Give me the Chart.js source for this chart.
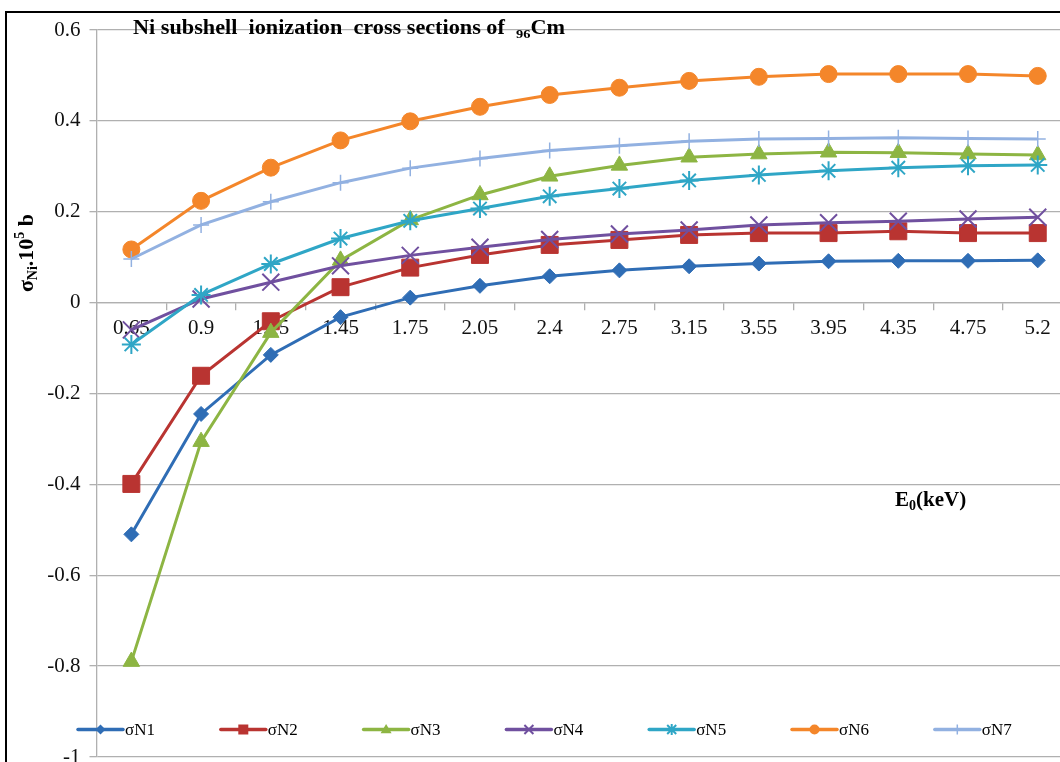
<!DOCTYPE html>
<html>
<head>
<meta charset="utf-8">
<script src="https://cdn.jsdelivr.net/npm/chart.js@4.4.1/dist/chart.umd.min.js"></script>
<style>
  html, body { margin: 0; padding: 0; background: #fff; overflow: hidden; width: 1060px; height: 762px; }
  #wrap { position: absolute; left: 0; top: 0; width: 1060px; height: 762px; overflow: hidden; }
  #frame { position: absolute; left: 5px; top: 11px; width: 1200px; height: 900px;
           border-left: 2.5px solid #000; border-top: 2.5px solid #000; }
  #box { position: absolute; left: 0; top: 0; width: 1100px; height: 780px; }
</style>
</head>
<body>
<div id="wrap">
  <div id="frame"></div>
  <div id="box"><canvas id="c" width="1100" height="780"></canvas></div>
</div>
<script>
// Incident energies E0 (keV)
const categories = ['0.65', '0.9', '1.15', '1.45', '1.75', '2.05', '2.4', '2.75', '3.15', '3.55', '3.95', '4.35', '4.75', '5.2'];

// N-subshell ionization cross sections (x 10^5 b)
const sN1 = [-0.510, -0.245, -0.115, -0.032, 0.011, 0.037, 0.058, 0.071, 0.080, 0.086, 0.091, 0.092, 0.092, 0.093];
const sN2 = [-0.399, -0.161, -0.041, 0.034, 0.077, 0.105, 0.127, 0.138, 0.149, 0.153, 0.153, 0.157, 0.153, 0.153];
const sN3 = [-0.790, -0.306, -0.066, 0.093, 0.182, 0.237, 0.278, 0.302, 0.320, 0.327, 0.331, 0.330, 0.327, 0.325];
const sN4 = [-0.060, 0.008, 0.045, 0.081, 0.104, 0.122, 0.139, 0.151, 0.160, 0.171, 0.176, 0.179, 0.184, 0.188];
const sN5 = [-0.092, 0.017, 0.085, 0.141, 0.180, 0.207, 0.234, 0.251, 0.269, 0.281, 0.290, 0.297, 0.301, 0.303];
const sN6 = [0.117, 0.224, 0.297, 0.357, 0.399, 0.431, 0.457, 0.473, 0.488, 0.497, 0.503, 0.503, 0.503, 0.499];
const sN7 = [0.096, 0.171, 0.222, 0.264, 0.296, 0.317, 0.335, 0.345, 0.355, 0.360, 0.361, 0.363, 0.361, 0.360];

const seriesNames = ['σN1', 'σN2', 'σN3', 'σN4', 'σN5', 'σN6', 'σN7'];
const yTicks = [-1, -0.8, -0.6, -0.4, -0.2, 0, 0.2, 0.4, 0.6];

const SERIF = '"Liberation Serif", "Times New Roman", serif';
const GRID = '#B0B0B0';

const styles = [
  { color: '#2F6DB5', point: 'rectRot',  r: 7.5, bw: 1 },
  { color: '#B93431', point: 'rect',     r: 12,  bw: 1 },
  { color: '#8DB543', point: 'triangle', r: 9.5, bw: 1 },
  { color: '#70509F', point: 'crossRot', r: 12,  bw: 2 },
  { color: '#2FA6C6', point: 'star',     r: 9.5, bw: 2 },
  { color: '#F4862A', point: 'circle',   r: 8.5, bw: 1 },
  { color: '#92B1E1', point: 'cross',    r: 8,   bw: 1.5 }
];
const seriesData = [sN1, sN2, sN3, sN4, sN5, sN6, sN7];

const datasets = seriesData.map((d, i) => ({
  label: seriesNames[i],
  data: d,
  borderColor: styles[i].color,
  backgroundColor: styles[i].color,
  borderWidth: 3,
  tension: 0,
  fill: false,
  pointStyle: styles[i].point,
  pointRadius: styles[i].r,
  pointBackgroundColor: styles[i].color,
  pointBorderColor: styles[i].color,
  pointBorderWidth: styles[i].bw,
  order: seriesData.length - i
}));

// Draws a sequence of text runs (for sub/superscripts) starting at x
function drawRuns(ctx, x, y, runs, measureOnly) {
  let cx = x;
  runs.forEach(r => {
    ctx.font = (r.bold ? 'bold ' : '') + r.size + 'px ' + SERIF;
    if (!measureOnly) ctx.fillText(r.t, cx, y + (r.dy || 0));
    cx += ctx.measureText(r.t).width;
  });
  return cx - x;
}

// Small legend markers
function drawMarker(ctx, kind, x, y, r, color) {
  ctx.save();
  ctx.fillStyle = color; ctx.strokeStyle = color; ctx.lineWidth = 2;
  ctx.beginPath();
  switch (kind) {
    case 'rectRot':
      ctx.moveTo(x, y - r); ctx.lineTo(x + r, y); ctx.lineTo(x, y + r); ctx.lineTo(x - r, y); ctx.closePath(); ctx.fill(); break;
    case 'rect':
      ctx.rect(x - r, y - r, 2 * r, 2 * r); ctx.fill(); break;
    case 'triangle':
      ctx.moveTo(x, y - r); ctx.lineTo(x + r, y + r * 0.7); ctx.lineTo(x - r, y + r * 0.7); ctx.closePath(); ctx.fill(); break;
    case 'crossRot':
      ctx.moveTo(x - r, y - r); ctx.lineTo(x + r, y + r); ctx.moveTo(x + r, y - r); ctx.lineTo(x - r, y + r); ctx.stroke(); break;
    case 'star':
      ctx.moveTo(x - r, y - r); ctx.lineTo(x + r, y + r); ctx.moveTo(x + r, y - r); ctx.lineTo(x - r, y + r);
      ctx.moveTo(x, y - r * 1.2); ctx.lineTo(x, y + r * 1.2); ctx.stroke(); break;
    case 'circle':
      ctx.arc(x, y, r, 0, Math.PI * 2); ctx.fill(); break;
    case 'cross':
      ctx.lineWidth = 1.5;
      ctx.moveTo(x, y - r); ctx.lineTo(x, y + r); ctx.stroke(); break;
  }
  ctx.restore();
}

const annotations = {
  id: 'annotations',
  afterDraw(chart) {
    const ctx = chart.ctx;
    ctx.save();
    ctx.fillStyle = '#000';
    ctx.textBaseline = 'alphabetic';
    ctx.textAlign = 'left';

    // Chart title, set in a slightly widened bold serif
    const titleRuns = [
      { t: 'Ni subshell  ionization  cross sections of  ', size: 20, bold: true },
      { t: '96', size: 13, bold: true, dy: 4 },
      { t: 'Cm', size: 20, bold: true }
    ];
    const tw = drawRuns(ctx, 0, 0, titleRuns, true);
    ctx.save();
    ctx.translate(133, 33.5);
    ctx.scale(432 / tw, 1);
    drawRuns(ctx, 0, 0, titleRuns);
    ctx.restore();

    // Axis label for energy
    drawRuns(ctx, 895, 506, [
      { t: 'E', size: 21, bold: true },
      { t: '0', size: 14, bold: true, dy: 4 },
      { t: '(keV)', size: 21, bold: true }
    ]);

    // Vertical axis title
    const yRuns = [
      { t: 'σ', size: 22, bold: true },
      { t: 'Ni', size: 14, bold: true, dy: 4 },
      { t: '.10', size: 22, bold: true },
      { t: '5', size: 14, bold: true, dy: -9 },
      { t: ' b', size: 22, bold: true }
    ];
    ctx.save();
    ctx.translate(33, 253);
    ctx.rotate(-Math.PI / 2);
    const w = drawRuns(ctx, 0, 0, yRuns, true);
    drawRuns(ctx, -w / 2, 0, yRuns);
    ctx.restore();

    // Legend
    const ly = 729.5;
    const legendR = [5, 5, 5.5, 4.5, 4.5, 5, 5];
    seriesNames.forEach((name, i) => {
      const x0 = 78 + i * 142.8;
      ctx.save();
      ctx.strokeStyle = styles[i].color;
      ctx.lineWidth = 3.5;
      ctx.lineCap = 'round';
      ctx.beginPath(); ctx.moveTo(x0, ly); ctx.lineTo(x0 + 45, ly); ctx.stroke();
      ctx.restore();
      drawMarker(ctx, styles[i].point, x0 + 22.5, ly, legendR[i], styles[i].color);
      ctx.fillStyle = '#000';
      ctx.font = '17px ' + SERIF;
      ctx.textBaseline = 'middle';
      ctx.fillText(name, x0 + 47, ly + 1);
    });
    ctx.restore();
  }
};

const fmt = v => {
  const n = Math.round(v * 10) / 10;
  return n === 0 ? '0' : String(n);
};

new Chart(document.getElementById('c'), {
  type: 'line',
  data: { labels: categories, datasets },
  plugins: [annotations],
  options: {
    responsive: false,
    devicePixelRatio: 1,
    animation: false,
    events: [],
    layout: { padding: { left: 0, top: 30, right: 27.4, bottom: 23 } },
    plugins: { legend: { display: false }, tooltip: { enabled: false }, title: { display: false } },
    scales: {
      x: {
        type: 'category',
        position: { y: 0 },
        offset: true,
        grid: { offset: true, drawOnChartArea: false, drawTicks: true, tickLength: 7, color: GRID, lineWidth: 1.3 },
        border: { display: true, color: GRID, width: 1.3 },
        ticks: { font: { family: SERIF, size: 21 }, color: '#111', padding: 6, maxRotation: 0, autoSkip: false }
      },
      y: {
        min: -1,
        max: 0.6,
        afterBuildTicks: s => { s.ticks = yTicks.map(v => ({ value: v })); },
        afterFit: s => { s.width = 96.5; },
        grid: { color: GRID, lineWidth: 1.3, tickLength: 7, drawTicks: true },
        border: { display: true, color: GRID, width: 1.3 },
        ticks: { font: { family: SERIF, size: 21 }, color: '#111', padding: 9, callback: v => fmt(v) }
      }
    }
  }
});
</script>
</body>
</html>
